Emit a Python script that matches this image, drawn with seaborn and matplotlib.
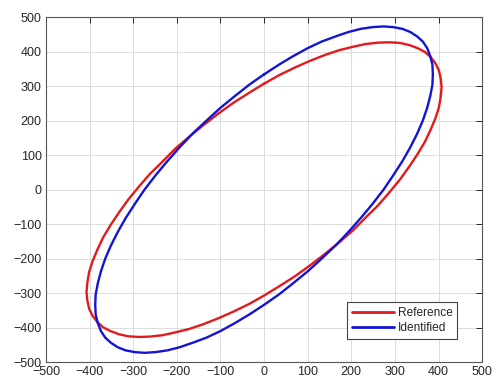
import numpy as np
import pandas as pd
import matplotlib
matplotlib.use('Agg')
import matplotlib.pyplot as plt
import seaborn as sns

# points (72 samples each, going round)
ref_x = [0, 35, 71, 105, 139, 172, 204, 233, 262, 288, 312, 333, 352, 369, 382, 393, 401, 405,
         407, 405, 401, 393, 382, 369, 352, 333, 312, 288, 262, 233, 204, 172, 139, 105, 71, 35,
         0, -35, -71, -105, -139, -172, -204, -233, -262, -288, -312, -333, -352, -369, -382, -393, -401, -405,
         -407, -405, -401, -393, -382, -369, -352, -333, -312, -288, -262, -233, -204, -172, -139, -105, -71, -35]
ref_y = [307, 332, 354, 373, 390, 404, 414, 422, 426, 427, 425, 419, 410, 399, 384, 366, 345, 322,
         297, 269, 239, 207, 174, 139, 103, 67, 30, -7, -45, -81, -118, -153, -187, -220, -251, -280,
         -307, -332, -354, -373, -390, -404, -414, -422, -426, -427, -425, -419, -410, -399, -384, -366, -345, -322,
         -297, -269, -239, -207, -174, -139, -103, -67, -30, 7, 45, 81, 118, 153, 187, 220, 251, 280]
idn_x = [0, 34, 67, 100, 132, 164, 194, 222, 249, 274, 296, 317, 335, 351, 364, 374, 381, 386,
         387, 386, 381, 374, 364, 351, 335, 317, 296, 274, 249, 222, 194, 164, 132, 100, 67, 34,
         0, -34, -67, -100, -132, -164, -194, -222, -249, -274, -296, -317, -335, -351, -364, -374, -381, -386,
         -387, -386, -381, -374, -364, -351, -335, -317, -296, -274, -249, -222, -194, -164, -132, -100, -67, -34]
idn_y = [334, 362, 387, 410, 429, 444, 457, 466, 471, 473, 471, 466, 457, 444, 429, 410, 387, 362,
         334, 304, 271, 237, 200, 162, 122, 82, 41, 0, -41, -82, -122, -162, -200, -237, -271, -304,
         -334, -362, -387, -410, -429, -444, -457, -466, -471, -473, -471, -466, -457, -444, -429, -410, -387, -362,
         -334, -304, -271, -237, -200, -162, -122, -82, -41, 0, 41, 82, 122, 162, 200, 237, 271, 304]

labels = ['Reference', 'Identified']
ticks = list(range(-500, 501, 100))

rows = []
for name, xs, ys in [('Reference', ref_x, ref_y), ('Identified', idn_x, idn_y)]:
    xs = xs + xs[:1]   # close the loop
    ys = ys + ys[:1]
    for i, (a, b) in enumerate(zip(xs, ys)):
        rows.append({'curve': name, 'order': i, 'x': a, 'y': b})
df = pd.DataFrame(rows)

sns.set_style('white')
plt.rcParams['font.family'] = ['Liberation Sans', 'DejaVu Sans']

fig = plt.figure(figsize=(4.94, 3.8), dpi=100)
ax = fig.add_axes([0.093, 0.047, 0.883, 0.908])

sns.lineplot(data=df, x='x', y='y', hue='curve', units='curve', sort=False, estimator=None,
             palette={'Reference': '#e31a1c', 'Identified': '#1414d6'},
             linewidth=1.7, ax=ax)

ax.set_xlim(-500, 500)
ax.set_ylim(-500, 500)
ax.set_xticks(ticks)
ax.set_yticks(ticks)
ax.set_xlabel('')
ax.set_ylabel('')
ax.grid(True, color='#dcdcdc', linewidth=0.7)
ax.set_axisbelow(True)
ax.tick_params(direction='in', length=4, width=0.7, top=True, right=True,
               labelsize=9, colors='#262626', pad=3)
for sp in ax.spines.values():
    sp.set_visible(True)
    sp.set_color('#555555')
    sp.set_linewidth(0.8)

handles, labs = ax.get_legend_handles_labels()
leg = ax.legend(handles, labs, loc='lower right', bbox_to_anchor=(0.943, 0.067),
                borderaxespad=0, fontsize=8.6, handlelength=3.5, handletextpad=0.3,
                fancybox=False, framealpha=1, edgecolor='#444444', borderpad=0.4,
                labelspacing=0.25)
leg.get_frame().set_linewidth(0.8)
for ln in leg.get_lines():
    ln.set_linewidth(2)

plt.savefig('out.png', dpi=100)
plt.close()
